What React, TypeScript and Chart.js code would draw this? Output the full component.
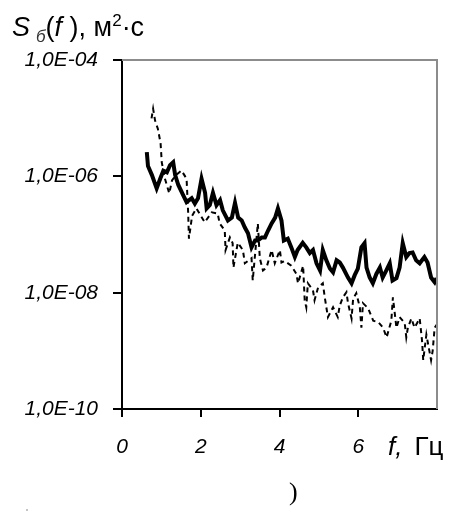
import React, { useEffect, useRef } from "react";
import { Chart, registerables } from "chart.js";

Chart.register(...registerables);

// Solid (thick) spectrum
const solidFreq = [
  0.63, 0.66, 0.76, 0.88, 0.97, 1.05, 1.14, 1.22, 1.3, 1.35, 1.43, 1.55, 1.64,
  1.77, 1.85, 1.93, 2.02, 2.11, 2.15, 2.23, 2.31, 2.4, 2.49, 2.56, 2.69, 2.79,
  2.87, 2.95, 3.04, 3.12, 3.2, 3.29, 3.38, 3.45, 3.55, 3.63, 3.71, 3.8, 3.89,
  3.96, 4.05, 4.11, 4.21, 4.3, 4.39, 4.46, 4.59, 4.68, 4.77, 4.85, 4.94, 5.03,
  5.1, 5.19, 5.28, 5.36, 5.45, 5.53, 5.61, 5.74, 5.83, 5.91, 5.99, 6.08, 6.16,
  6.21, 6.29, 6.37, 6.46, 6.55, 6.62, 6.71, 6.8, 6.87, 6.97, 7.05, 7.13, 7.22,
  7.3, 7.38, 7.47, 7.56, 7.68, 7.76, 7.85, 7.94, 7.99,
];
const solidPsd = [
  2.6e-6, 1.5e-6, 1.05e-6, 6.2e-7, 9.1e-7, 1.25e-6, 1.17e-6, 1.55e-6, 1.74e-6,
  1.05e-6, 7.1e-7, 4.8e-7, 3.6e-7, 4.2e-7, 3.4e-7, 4.2e-7, 9.1e-7, 5.2e-7,
  2.8e-7, 3.2e-7, 5.2e-7, 3.2e-7, 3.9e-7, 2.6e-7, 1.74e-7, 1.95e-7, 3.5e-7,
  1.95e-7, 1.74e-7, 1.32e-7, 1.05e-7, 6.0e-8, 7.9e-8, 7.9e-8, 8.9e-8, 8.9e-8,
  1.17e-7, 1.55e-7, 1.95e-7, 2.8e-7, 1.74e-7, 7.9e-8, 8.5e-8, 6.0e-8, 4.1e-8,
  5.4e-8, 7.2e-8, 6.0e-8, 4.8e-8, 5.4e-8, 3.2e-8, 2.4e-8, 5.4e-8, 3.6e-8,
  2.6e-8, 2.24e-8, 3.6e-8, 3.3e-8, 2.7e-8, 1.82e-8, 1.45e-8, 2.0e-8, 2.6e-8,
  6.0e-8, 7.1e-8, 2.7e-8, 1.82e-8, 1.45e-8, 2.1e-8, 2.7e-8, 1.82e-8, 2.4e-8,
  3.2e-8, 1.62e-8, 1.78e-8, 2.7e-8, 7.1e-8, 4.1e-8, 4.8e-8, 4.9e-8, 3.6e-8,
  3.2e-8, 4.1e-8, 3.3e-8, 1.82e-8, 1.51e-8, 1.78e-8,
];

// Dashed (thin) spectrum
const dashedFreq = [
  0.75, 0.79, 0.84, 0.91, 0.98, 1.01, 1.09, 1.2, 1.27, 1.37, 1.51, 1.64, 1.68,
  1.7, 1.78, 1.89, 2.1, 2.28, 2.43, 2.48, 2.61, 2.63, 2.74, 2.81, 2.83, 2.94,
  3.07, 3.12, 3.29, 3.32, 3.45, 3.5, 3.58, 3.67, 3.8, 3.88, 4.01, 4.05, 4.13,
  4.3, 4.43, 4.47, 4.6, 4.64, 4.68, 4.72, 4.85, 4.89, 4.98, 5.1, 5.15, 5.19,
  5.23, 5.36, 5.48, 5.53, 5.61, 5.7, 5.74, 5.83, 5.87, 5.95, 6.04, 6.08, 6.12,
  6.25, 6.38, 6.51, 6.63, 6.72, 6.84, 6.88, 6.97, 7.05, 7.18, 7.22, 7.26, 7.35,
  7.43, 7.56, 7.62, 7.65, 7.73, 7.85, 7.89, 7.94, 7.99,
];
const dashedPsd = [
  9.9e-6, 1.45e-5, 9.1e-6, 6.6e-6, 3.7e-6, 1.74e-6, 9.1e-7, 5.1e-7, 8.5e-7,
  1.05e-6, 1.26e-6, 9.1e-7, 2.4e-7, 8.5e-8, 2.1e-7, 2.8e-7, 1.62e-7, 2.4e-7,
  2.3e-7, 1.55e-7, 1.17e-7, 5.4e-8, 8.9e-8, 7.1e-8, 2.7e-8, 7.2e-8, 5.4e-8,
  3.2e-8, 3.9e-8, 1.62e-8, 1.55e-7, 3.9e-8, 2.4e-8, 2.7e-8, 5.4e-8, 3.2e-8,
  5.4e-8, 3.3e-8, 3.5e-8, 2.9e-8, 2.1e-8, 1.45e-8, 2.9e-8, 7.4e-9, 5.6e-9,
  1.45e-8, 1.1e-8, 7.4e-9, 1.23e-8, 1.45e-8, 8.3e-9, 5.6e-9, 3.8e-9, 5.6e-9,
  3.8e-9, 6.0e-9, 8.3e-9, 1.02e-8, 6.6e-9, 3.6e-9, 7.9e-9, 9.8e-9, 5.6e-9,
  2.5e-9, 6.6e-9, 5.4e-9, 3.3e-9, 3.1e-9, 2.5e-9, 1.7e-9, 3.3e-9, 8.3e-9,
  2.5e-9, 3.8e-9, 3.0e-9, 1.7e-9, 2.5e-9, 3.6e-9, 2.5e-9, 3.6e-9, 1.5e-9,
  6.9e-10, 1.9e-9, 6.9e-10, 1.0e-9, 2.5e-9, 2.8e-9,
];

const xTickValues = [0, 2, 4, 6];
const xTickLabels = ["0", "2", "4", "6"];
const yTickValues = [1e-10, 1e-8, 1e-6, 1e-4];
const yTickLabels = ["1,0E-10", "1,0E-08", "1,0E-06", "1,0E-04"];

const FONT = '"Liberation Sans", Arial, sans-serif';

const framePlugin = {
  id: "frame",
  afterDatasetsDraw(chart: any) {
    const { ctx, chartArea } = chart;
    ctx.save();
    ctx.strokeStyle = "#8c8c8c";
    ctx.lineWidth = 2;
    ctx.beginPath();
    ctx.moveTo(chartArea.left, chartArea.top);
    ctx.lineTo(chartArea.right, chartArea.top);
    ctx.lineTo(chartArea.right, chartArea.bottom);
    ctx.stroke();
    ctx.restore();
  },
};

export default function App() {
  const canvasRef = useRef<HTMLCanvasElement | null>(null);

  useEffect(() => {
    const canvas = canvasRef.current;
    if (!canvas) return;
    const solid = solidFreq.map((f, i) => ({ x: f, y: solidPsd[i] }));
    const dashed = dashedFreq.map((f, i) => ({ x: f, y: dashedPsd[i] }));
    const chart = new Chart(canvas, {
      type: "line",
      data: {
        datasets: [
          {
            data: solid,
            borderColor: "#000",
            borderWidth: 4,
            pointRadius: 0,
            tension: 0,
            order: 0,
          },
          {
            data: dashed,
            borderColor: "#000",
            borderWidth: 2,
            borderDash: [5, 4],
            pointRadius: 0,
            tension: 0,
            order: 1,
          },
        ],
      },
      options: {
        animation: false,
        responsive: false,
        devicePixelRatio: 1,
        layout: { padding: { left: 0, top: 60, right: 28, bottom: 0 } },
        plugins: {
          legend: { display: false },
          tooltip: { enabled: false },
          title: { display: false },
        },
        scales: {
          x: {
            type: "linear",
            min: 0,
            max: 8,
            afterBuildTicks: (axis: any) => {
              axis.ticks = xTickValues.map((v) => ({ value: v }));
            },
            afterFit: (axis: any) => {
              axis.height = 112;
            },
            ticks: {
              autoSkip: false,
              maxRotation: 0,
              padding: 18,
              color: "#000",
              font: { family: FONT, size: 21, style: "italic" },
              callback: (v: any) => {
                const i = xTickValues.indexOf(Number(v));
                return i >= 0 ? xTickLabels[i] : "";
              },
            },
            grid: {
              display: true,
              drawOnChartArea: false,
              drawTicks: true,
              tickLength: 8,
              color: "#000",
              lineWidth: 2,
            },
            border: { display: true, color: "#000", width: 2 },
          },
          y: {
            type: "logarithmic",
            min: 1e-10,
            max: 1e-4,
            afterBuildTicks: (axis: any) => {
              axis.ticks = yTickValues.map((v) => ({ value: v }));
            },
            afterFit: (axis: any) => {
              axis.width = 122;
            },
            ticks: {
              autoSkip: false,
              padding: 15,
              color: "#000",
              font: { family: FONT, size: 21, style: "italic" },
              callback: (v: any) => {
                const n = Number(v);
                let best = 0;
                yTickValues.forEach((t, i) => {
                  if (Math.abs(Math.log10(t) - Math.log10(n)) < Math.abs(Math.log10(yTickValues[best]) - Math.log10(n))) best = i;
                });
                return yTickLabels[best];
              },
            },
            grid: {
              display: true,
              drawOnChartArea: false,
              drawTicks: true,
              tickLength: 9,
              color: "#000",
              lineWidth: 2,
            },
            border: { display: true, color: "#000", width: 2 },
          },
        },
      },
      plugins: [framePlugin],
    } as any);
    return () => chart.destroy();
  }, []);

  return (
    <div
      style={{
        position: "absolute",
        left: 0,
        top: 0,
        width: 465,
        height: 521,
        background: "#fff",
        overflow: "hidden",
      }}
    >
      <canvas
        ref={canvasRef}
        width={465}
        height={521}
        style={{ position: "absolute", left: 0, top: 0, width: 465, height: 521 }}
      />
      <div
        style={{
          position: "absolute",
          left: 12,
          top: 14,
          fontFamily: FONT,
          fontSize: 27,
          lineHeight: "27px",
          color: "#000",
          whiteSpace: "nowrap",
        }}
      >
        <span style={{ fontStyle: "italic" }}>S</span>
        <span
          style={{
            fontStyle: "italic",
            fontSize: 17,
            position: "relative",
            top: 6,
            marginLeft: 6,
            color: "#333",
          }}
        >
          б
        </span>
        <span>(</span>
        <span style={{ fontStyle: "italic" }}>f</span>
        <span> ), м</span>
        <span style={{ fontSize: 17, position: "relative", top: -10 }}>2</span>
        <span>·с</span>
      </div>
      <div
        style={{
          position: "absolute",
          left: 388,
          top: 433,
          fontFamily: FONT,
          fontSize: 26,
          lineHeight: "26px",
          color: "#000",
          whiteSpace: "nowrap",
        }}
      >
        <span style={{ fontStyle: "italic" }}>f,</span>
        <span style={{ marginLeft: 12 }}>Гц</span>
      </div>
      <div
        style={{
          position: "absolute",
          left: 289,
          top: 479,
          fontFamily: '"Liberation Serif", "Times New Roman", serif',
          fontSize: 26,
          lineHeight: "26px",
          color: "#000",
        }}
      >
        )
      </div>
      <div
        style={{
          position: "absolute",
          left: 25,
          top: 498,
          fontFamily: FONT,
          fontSize: 12,
          lineHeight: "12px",
          color: "#555",
        }}
      >
        ˌ
      </div>
    </div>
  );
}
